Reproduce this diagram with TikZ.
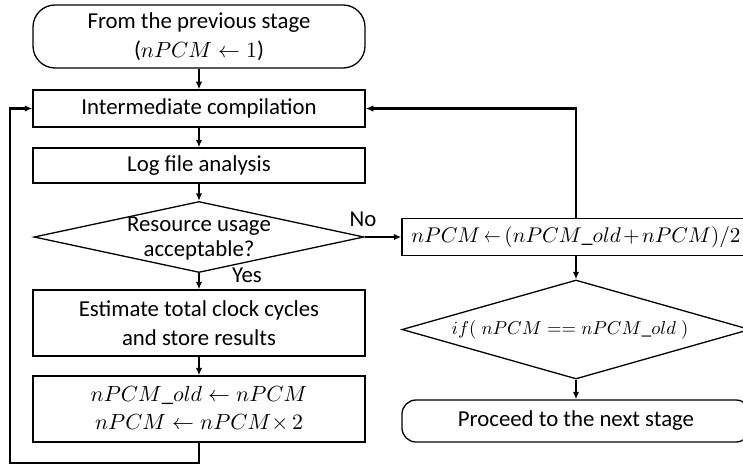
\documentclass[tikz,border=0pt]{standalone}
\usepackage{fontspec}
\setmainfont{Carlito}
\usetikzlibrary{shapes.geometric,arrows.meta}
\newcommand{\slimgets}{\mathrel{\scalebox{0.8}[1]{$\leftarrow$}}}

\begin{document}
\begin{tikzpicture}[x=0.5pt,y=-0.5pt,
  font=\fontsize{11.4}{14.2}\selectfont,
  box/.style={draw,line width=0.65pt,minimum width=166pt,inner sep=0pt,align=center},
  term/.style={box,rounded corners=11pt},
  decision/.style={draw,diamond,line width=0.65pt,inner sep=0pt},
  arr/.style={-{Latex[length=3.8pt,width=3.2pt]},line width=1.2pt}]
\useasboundingbox (0,0) rectangle (743,465);
\node[term,minimum height=31.5pt] (start) at (199,36.5) {From the previous stage\\($nPCM \leftarrow 1$)};
\node[box,minimum height=18.5pt] (inter) at (199,108.5) {Intermediate compilation};
\node[box,minimum height=17.5pt] (logf) at (199,165.5) {Log file analysis};
\node[decision,minimum width=165pt,minimum height=35.5pt] (dec1) at (199,237) {};
\node[align=center] (dec1txt) at (199,239) {Resource usage\\[-1.7pt]acceptable?};
\node[box,minimum height=33pt] (est) at (199,323) {Estimate total clock cycles\\and store results};
\node[box,minimum height=33pt] (upd) at (199,409) {$nPCM\_old \leftarrow nPCM$\\$nPCM \leftarrow nPCM{\times}\,2$};
\node[box,minimum width=174pt,minimum height=18.5pt] (halve) at (576,237)
  {\scalebox{0.97}{\thickmuskip=3mu\medmuskip=2mu $nPCM \slimgets (nPCM\_old + nPCM)/2$}};
\node[decision,minimum width=174pt,minimum height=49.5pt] (dec2) at (576,329.5) {};
\node (dec2txt) at (570,329.5) {\scalebox{0.85}{$if(\;nPCM == nPCM\_old\;)$}};
\node[term,rounded corners=7pt,minimum width=174pt,minimum height=21pt] (fin) at (576,421) {Proceed to the next stage};
\node (yes) at (247,275) {Yes};
\node (no) at (363,219) {No};
\coordinate (loopc) at (10,463);
\draw[arr] (start) -- (inter);
\draw[arr] (inter) -- (logf);
\draw[arr] (logf) -- (dec1);
\draw[arr] (dec1) -- (est);
\draw[arr] (est) -- (upd);
\draw[arr] (upd.south) |- (loopc) |- (inter.west);
\draw[arr] (dec1.east) -- (halve.west);
\draw[arr] (halve.north) |- (inter.east);
\draw[arr] (halve) -- (dec2);
\draw[arr] (dec2) -- (fin);
\end{tikzpicture}
\end{document}
